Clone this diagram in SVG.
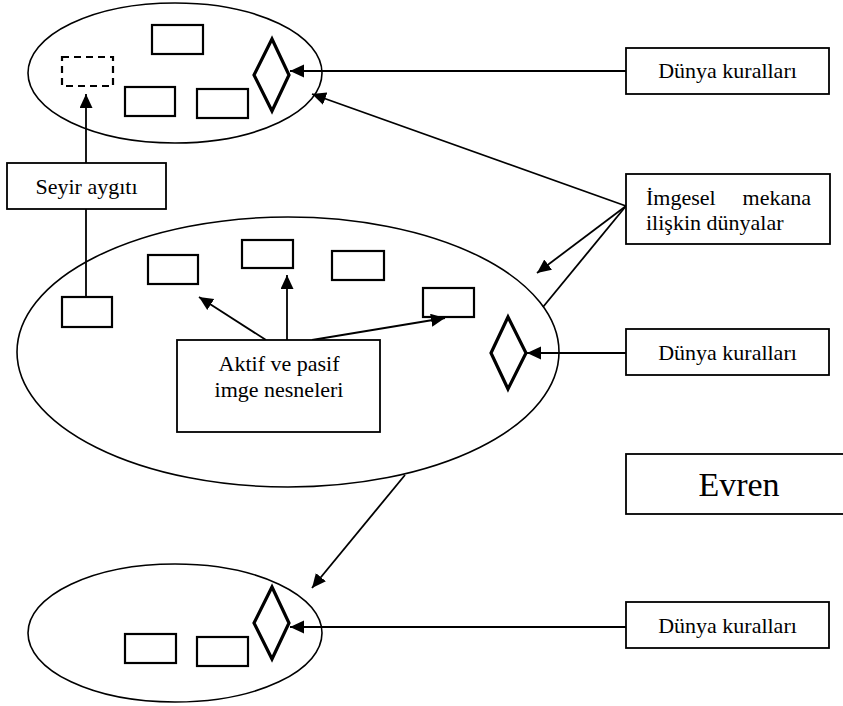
<svg xmlns="http://www.w3.org/2000/svg" width="843" height="706" viewBox="0 0 843 706" font-family="'Liberation Serif', 'Times New Roman', serif">
  <defs>
    <marker id="arrow" markerUnits="userSpaceOnUse" markerWidth="15" markerHeight="14" refX="14" refY="6.5" orient="auto">
      <path d="M0,0 L14,6.5 L0,13 z" fill="#000"/>
    </marker>
    <style>
      .world { fill: none; stroke: #000; stroke-width: 1.6; }
      .obj { fill: #fff; stroke: #000; stroke-width: 2.2; }
      .ghost { fill: none; stroke: #000; stroke-width: 2.2; stroke-dasharray: 7 5; }
      .rule { fill: #fff; stroke: #000; stroke-width: 3.2; stroke-linejoin: miter; }
      .box { fill: #fff; stroke: #000; stroke-width: 1.8; }
      .edge { fill: none; stroke: #000; stroke-width: 1.8; }
      .arr { marker-end: url(#arrow); }
      .lbl { font-family: 'Liberation Serif', 'Times New Roman', serif; font-size: 22px; fill: #000; }
    </style>
  </defs>
  <rect width="843" height="706" fill="#fff"/>

  <!-- upper world -->
  <g id="world-top">
    <ellipse class="world" cx="175" cy="73" rx="147" ry="70"/>
    <rect class="obj" x="152" y="25" width="51" height="29"/>
    <rect class="ghost" x="62" y="57" width="51" height="29"/>
    <rect class="obj" x="125" y="87" width="50" height="29"/>
    <rect class="obj" x="197" y="89" width="51" height="29"/>
    <polygon class="rule" points="272,39 289,75 272,111 254,75"/>
  </g>

  <!-- middle world -->
  <g id="world-middle">
    <ellipse class="world" cx="288" cy="352" rx="271" ry="135"/>
    <rect class="obj" x="62" y="297" width="50" height="30"/>
    <rect class="obj" x="148" y="255" width="50" height="29"/>
    <rect class="obj" x="242" y="240" width="51" height="28"/>
    <rect class="obj" x="332" y="251" width="52" height="29"/>
    <rect class="obj" x="423" y="288" width="51" height="29"/>
    <polygon class="rule" points="508,317 526,353 508,389 491,353"/>
  </g>

  <!-- lower world -->
  <g id="world-bottom">
    <ellipse class="world" cx="175" cy="633" rx="147" ry="69"/>
    <rect class="obj" x="125" y="634" width="51" height="29"/>
    <rect class="obj" x="197" y="637" width="51" height="29"/>
    <polygon class="rule" points="272,587 289,623 272,659 254,623"/>
  </g>

  <!-- connectors -->
  <g id="connectors">
    <line class="edge arr" x1="626" y1="71" x2="290" y2="71"/>
    <line class="edge arr" x1="626" y1="206" x2="312" y2="94"/>
    <line class="edge arr" x1="626" y1="206" x2="537" y2="273"/>
    <line class="edge" x1="626" y1="206" x2="543" y2="307"/>
    <line class="edge arr" x1="626" y1="353" x2="527" y2="353"/>
    <line class="edge arr" x1="626" y1="627" x2="290" y2="627"/>
    <line class="edge arr" x1="86" y1="163" x2="86" y2="94"/>
    <line class="edge" x1="86" y1="209" x2="86" y2="297"/>
    <line class="edge arr" x1="266" y1="340" x2="199" y2="297"/>
    <line class="edge arr" x1="287" y1="340" x2="287" y2="275"/>
    <line class="edge arr" x1="312" y1="340" x2="445" y2="318"/>
    <line class="edge arr" x1="405" y1="475" x2="312" y2="588"/>
  </g>

  <g id="rules-top">
    <rect class="box" x="626" y="48" width="203" height="46"/>
    <text class="lbl" x="727.5" y="78" text-anchor="middle">Dünya kuralları</text>
  </g>

  <g id="imaginal-worlds">
    <rect class="box" x="626" y="174" width="204" height="70"/>
    <text class="lbl"><tspan x="646" y="205">İmgesel</tspan><tspan x="811" y="205" text-anchor="end">mekana</tspan><tspan x="646" y="230">ilişkin dünyalar</tspan></text>
  </g>

  <g id="rules-middle">
    <rect class="box" x="626" y="329" width="203" height="46"/>
    <text class="lbl" x="727.5" y="360" text-anchor="middle">Dünya kuralları</text>
  </g>

  <g id="universe">
    <rect class="box" x="626" y="454" width="240" height="60"/>
    <text class="lbl" x="739" y="496" text-anchor="middle" style="font-size:34px">Evren</text>
  </g>

  <g id="rules-bottom">
    <rect class="box" x="626" y="602" width="203" height="46"/>
    <text class="lbl" x="727.5" y="633" text-anchor="middle">Dünya kuralları</text>
  </g>

  <g id="viewer">
    <rect class="box" x="7" y="163" width="159" height="46"/>
    <text class="lbl" x="86.5" y="194" text-anchor="middle">Seyir aygıtı</text>
  </g>

  <g id="image-objects">
    <rect class="box" x="177" y="340" width="203" height="92"/>
    <text class="lbl" text-anchor="middle"><tspan x="279" y="371">Aktif ve pasif</tspan><tspan x="279" y="397">imge nesneleri</tspan></text>
  </g>
</svg>
